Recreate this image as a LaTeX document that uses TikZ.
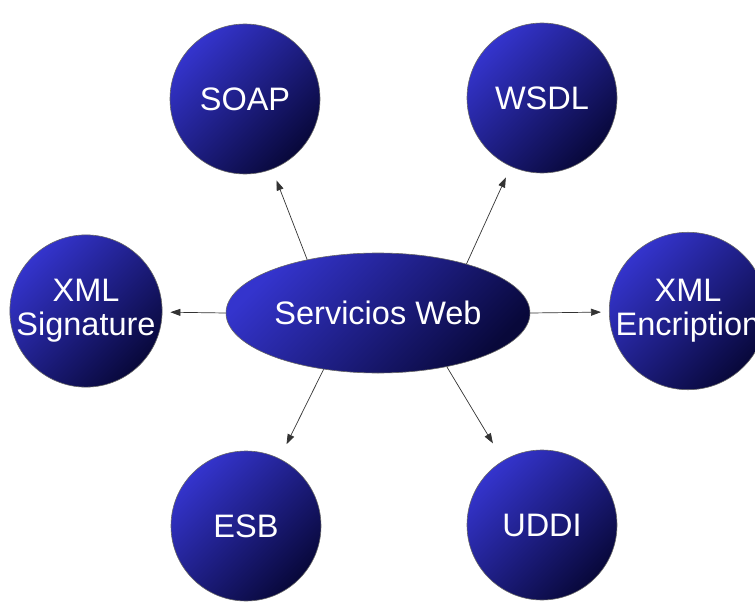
\documentclass[tikz,border=0pt]{standalone}
\usepackage{fontspec}
\setmainfont{Liberation Sans}
\usepackage{tikz}
\usetikzlibrary{arrows.meta,shapes.geometric}

\definecolor{bluelight}{RGB}{52,52,205}
\definecolor{bluemid}{RGB}{38,38,168}
\definecolor{bluedark}{RGB}{8,8,58}

\tikzset{
    bubble/.style={circle, minimum size=150pt, inner sep=0pt, draw=black!60, line width=0.6pt,
        top color=bluelight, middle color=bluemid, bottom color=bluedark, shading angle=45,
        text=white, align=center, font=\fontsize{32.5}{34}\selectfont},
    hub/.style={ellipse, minimum width=304pt, minimum height=120pt, inner sep=0pt, draw=black!60, line width=0.6pt,
        top color=bluelight, middle color=bluemid, bottom color=bluedark, shading angle=45,
        text=white, font=\fontsize{32.5}{34}\selectfont},
    link/.style={-{Triangle[length=10pt,width=7pt]}, draw=black!80, line width=0.7pt}
}

\begin{document}
\begin{tikzpicture}[x=1pt,y=-1pt]
    \useasboundingbox (0,0) rectangle (755,610);
    \node[hub] (ws) at (378,313) {Servicios Web};
    \node[bubble] (soap) at (245,99) {SOAP};
    \node[bubble] (wsdl) at (542,98) {WSDL};
    \node[bubble] (xmlsig) at (86,311) {XML\\Signature};
    \node[bubble] (xmlenc) at (688,311) {XML\\Encription};
    \node[bubble] (esb) at (246,526) {ESB};
    \node[bubble] (uddi) at (542,525) {UDDI};
    \draw[link, shorten >=12pt] (ws.143) -- (soap);
    \draw[link, shorten >=12pt] (ws.29) -- (wsdl);
    \draw[link, shorten >=8pt] (ws.west) -- (xmlsig);
    \draw[link, shorten >=8pt] (ws.east) -- (xmlenc);
    \draw[link, shorten >=16pt] (ws.226) -- (esb);
    \draw[link, shorten >=20pt] (ws.-38) -- (uddi);
\end{tikzpicture}
\end{document}
